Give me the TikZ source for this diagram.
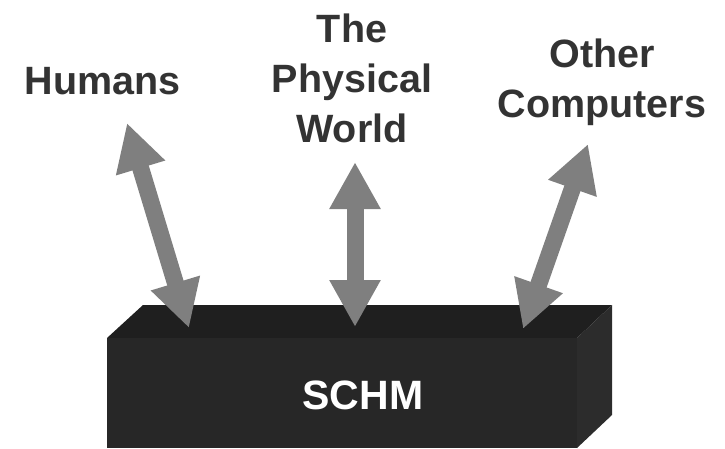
\documentclass[tikz,border=0pt]{standalone}
\usepackage{fontspec}
\setmainfont{Liberation Sans}
\usetikzlibrary{arrows.meta}
\definecolor{txtgray}{HTML}{333333}
\definecolor{arrowgray}{HTML}{7F7F7F}
\definecolor{boxtop}{HTML}{1F1F1F}
\definecolor{boxfront}{HTML}{272727}
\definecolor{boxside}{HTML}{2C2C2C}
\begin{document}
\begin{tikzpicture}[x=1pt,y=-1pt,
  label/.style={font=\fontsize{39.5}{50}\selectfont\bfseries, text=txtgray,
    align=center, inner sep=0pt, anchor=base},
  link/.style={draw=arrowgray, line width=17pt,
    {Triangle[length=47pt,width=48pt]}-{Triangle[length=47pt,width=48pt]}}]
  \useasboundingbox (0,0) rectangle (725,449);

  % the block: top, front and right faces
  \fill[boxtop] (107,338) -- (143,305) -- (612,305) -- (577,338) -- cycle;
  \fill[boxfront] (107,338) rectangle (577,448);
  \fill[boxside] (577,338) -- (612,305) -- (612,415) -- (577,448) -- cycle;
  \node[font=\fontsize{41}{41}\selectfont\bfseries, text=white, inner sep=0pt,
    anchor=base] (schm) at (363,409) {SCHM};

  % labels (base anchor sits on the last line)
  \node[label] (humans) at (102.5,95) {Humans};
  \node[label] (world) at (352,143) {The\\Physical\\World};
  \node[label] (others) at (602,118) {Other\\Computers};

  % arrow ends
  \coordinate (h1) at (189,328);
  \coordinate (h2) at (127,123);
  \coordinate (w1) at (355,327);
  \coordinate (w2) at (355,162);
  \coordinate (o1) at (523,329);
  \coordinate (o2) at (588,144);

  \draw[link] (h1) -- (h2);
  \draw[link] (w1) -- (w2);
  \draw[link] (o1) -- (o2);
\end{tikzpicture}
\end{document}
